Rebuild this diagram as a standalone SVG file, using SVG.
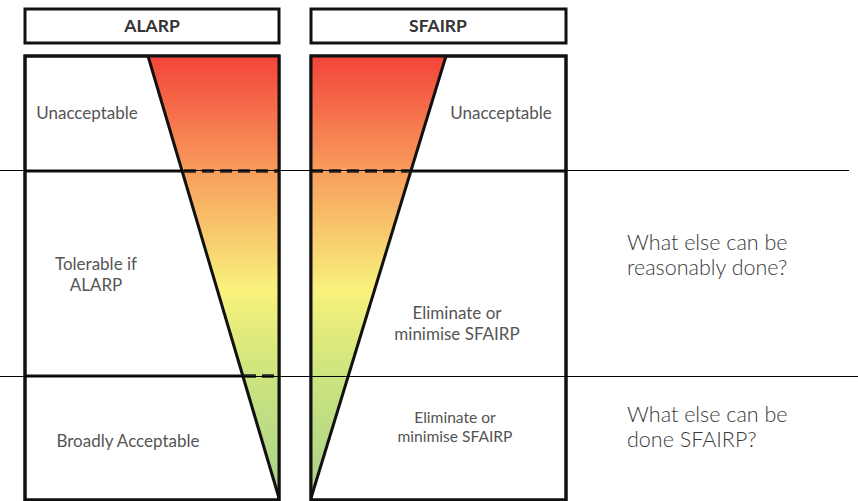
<svg xmlns="http://www.w3.org/2000/svg" width="858" height="501" viewBox="0 0 858 501">
<style>
.box{fill:#fff;stroke:#111;stroke-width:3}
.edge{stroke:#111;stroke-width:3;fill:none}
.dash{stroke:#222;stroke-width:3.5;stroke-dasharray:12 6;fill:none}
.thin{stroke:#000;stroke-width:1}
.hdr{font-family:Lato,"Open Sans","Liberation Sans",sans-serif;font-weight:bold;font-size:17.5px;fill:#333;text-anchor:middle}
.lbl{font-family:Lato,"Open Sans","Liberation Sans",sans-serif;font-size:17px;fill:#555;text-anchor:middle}
.sm{font-size:15.6px}
.side{font-family:Lato,"Open Sans","Liberation Sans",sans-serif;font-weight:300;font-size:21.5px;fill:#3a3a3a}
</style>
<defs>
<linearGradient id="risk" x1="0" y1="56" x2="0" y2="498" gradientUnits="userSpaceOnUse">
<stop offset="0" stop-color="#f3443a"/>
<stop offset="0.27" stop-color="#f8a05e"/>
<stop offset="0.53" stop-color="#f8f27c"/>
<stop offset="0.72" stop-color="#cde47e"/>
<stop offset="1" stop-color="#a9d28c"/>
</linearGradient>
</defs>
<g id="alarp-header"><rect class="box" x="25" y="9" width="254" height="34"/><text class="hdr" x="152" y="32">ALARP</text></g>
<g id="sfairp-header"><rect class="box" x="311" y="9" width="255" height="34"/><text class="hdr" x="438" y="32">SFAIRP</text></g>
<g id="alarp-column">
<rect class="box" x="25" y="56" width="254" height="444"/>
<polygon points="148,56 279,56 279,498" fill="url(#risk)"/>
<line class="edge" x1="148" y1="56" x2="279" y2="498"/>
<line class="edge" x1="25" y1="171" x2="182" y2="171"/>
<line class="dash" x1="184" y1="171" x2="279" y2="171"/>
<line class="edge" x1="25" y1="376" x2="243" y2="376"/>
<line class="dash" x1="244" y1="376" x2="279" y2="376"/>
<rect class="box" x="25" y="56" width="254" height="444" style="fill:none"/>
</g>
<g id="sfairp-column">
<rect class="box" x="311" y="56" width="255" height="444"/>
<polygon points="311,56 446,56 311,498" fill="url(#risk)"/>
<line class="edge" x1="446" y1="56" x2="311" y2="498"/>
<line class="edge" x1="411" y1="171" x2="566" y2="171"/>
<line class="dash" x1="311" y1="171" x2="410" y2="171"/>
<rect class="box" x="311" y="56" width="255" height="444" style="fill:none"/>
</g>
<g id="connectors">
<line class="thin" x1="0" y1="170.5" x2="849" y2="170.5"/>
<line class="thin" x1="0" y1="376.5" x2="858" y2="376.5"/>
</g>
<g id="alarp-labels">
<text class="lbl" x="87" y="119">Unacceptable</text>
<text class="lbl" x="96" y="270">Tolerable if</text>
<text class="lbl" x="96" y="291">ALARP</text>
<text class="lbl" x="128" y="447">Broadly Acceptable</text>
</g>
<g id="sfairp-labels">
<text class="lbl" x="501" y="119">Unacceptable</text>
<text class="lbl" x="457" y="319">Eliminate or</text>
<text class="lbl" x="457" y="340">minimise SFAIRP</text>
<text class="lbl sm" x="455" y="423">Eliminate or</text>
<text class="lbl sm" x="455" y="442">minimise SFAIRP</text>
</g>
<g id="side-notes">
<text class="side" x="627" y="250">What else can be</text>
<text class="side" x="627" y="275">reasonably done?</text>
<text class="side" x="627" y="422">What else can be</text>
<text class="side" x="627" y="447">done SFAIRP?</text>
</g>
</svg>
